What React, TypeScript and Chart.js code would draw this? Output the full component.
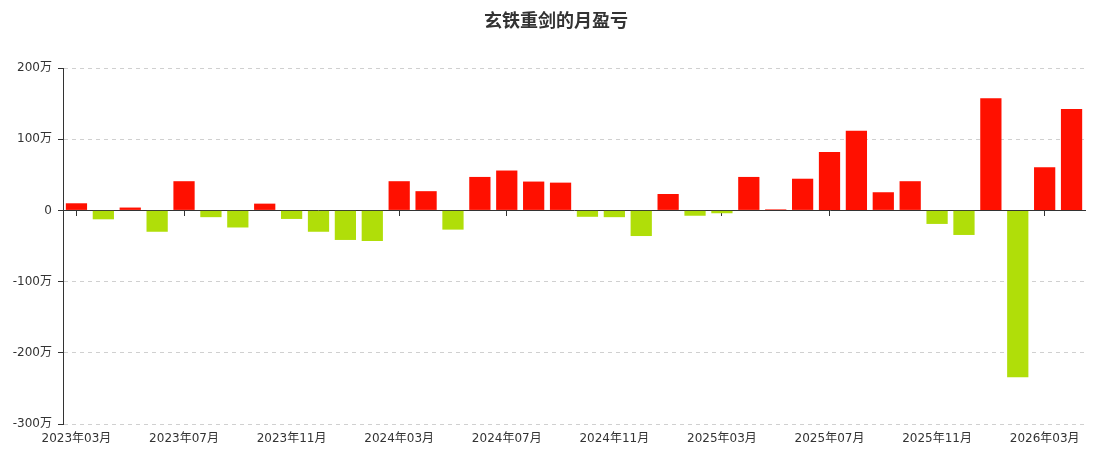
import React, { useEffect, useRef } from "react";
import { Chart, registerables } from "chart.js";

Chart.register(...registerables);

const TITLE = "玄铁重剑的月盈亏";

const months: string[] = [
  "2023年03月", "2023年04月", "2023年05月", "2023年06月", "2023年07月", "2023年08月",
  "2023年09月", "2023年10月", "2023年11月", "2023年12月", "2024年01月", "2024年02月",
  "2024年03月", "2024年04月", "2024年05月", "2024年06月", "2024年07月", "2024年08月",
  "2024年09月", "2024年10月", "2024年11月", "2024年12月", "2025年01月", "2025年02月",
  "2025年03月", "2025年04月", "2025年05月", "2025年06月", "2025年07月", "2025年08月",
  "2025年09月", "2025年10月", "2025年11月", "2025年12月", "2026年01月", "2026年02月",
  "2026年03月", "2026年04月",
];

// monthly profit / loss, unit: 万
const profit: number[] = [
  10, -12.5, 4, -30, 41, -9.5,
  -24, 9.5, -12, -30, -41.5, -43,
  41, 27, -27, 47, 56, 40.5,
  39, -9, -9.5, -36, 23, -7.5,
  -4, 47, 1.5, 44.5, 82, 112,
  25.5, 41, -19, -34.5, 157.5, -234.5,
  60.5, 142.5,
];

const yTicks: number[] = [-300, -200, -100, 0, 100, 200];

const UP_COLOR = "#FF1000";
const DOWN_COLOR = "#B0DE09";
const FONT = "'DejaVu Sans', 'Noto Sans CJK SC', sans-serif";

const titlePlugin = {
  id: "customTitle",
  afterDraw(chart: any) {
    const ctx = chart.ctx;
    ctx.save();
    ctx.font = "bold 18px 'Noto Sans CJK SC', sans-serif";
    ctx.fillStyle = "#333";
    ctx.textAlign = "center";
    ctx.textBaseline = "middle";
    ctx.fillText(TITLE, 556, 20);
    ctx.restore();
  },
};

export default function App() {
  const ref = useRef<HTMLCanvasElement | null>(null);

  useEffect(() => {
    if (!ref.current) return;
    const chart = new Chart(ref.current, {
      type: "bar",
      data: {
        labels: months,
        datasets: [
          {
            label: "月盈亏",
            data: profit,
            backgroundColor: (c: any) => ((c.raw ?? 0) >= 0 ? UP_COLOR : DOWN_COLOR),
            borderWidth: 0,
            categoryPercentage: 1,
            barPercentage: 0.79,
          },
        ],
      },
      options: {
        animation: false,
        responsive: true,
        maintainAspectRatio: false,
        layout: { padding: { top: 68, right: 16, left: 0, bottom: 0 } },
        plugins: {
          legend: { display: false },
          title: { display: false },
          tooltip: { enabled: false },
        },
        scales: {
          x: {
            type: "category",
            offset: true,
            grid: { display: false, drawTicks: false },
            border: { display: false },
            ticks: {
              autoSkip: false,
              maxRotation: 0,
              padding: 8,
              color: "#333",
              font: { size: 12, family: FONT },
              callback: (_v: any, i: number) => (i % 4 === 0 ? months[i] : ""),
            },
            afterFit: (s: any) => {
              s.height = 35;
            },
          },
          x2: {
            type: "category",
            labels: months,
            offset: true,
            position: { y: 0 } as any,
            grid: {
              offset: false,
              drawOnChartArea: false,
              drawTicks: true,
              tickLength: 5,
              tickColor: (c: any) => (c.index % 4 === 0 ? "#333" : "rgba(0,0,0,0)"),
            },
            border: { display: true, color: "#333", width: 1 },
            ticks: { display: false, autoSkip: false },
          },
          y: {
            min: -300,
            max: 200,
            afterBuildTicks: (s: any) => {
              s.ticks = yTicks.map((v) => ({ value: v }));
            },
            grid: {
              color: (c: any) => (c.tick && c.tick.value === 0 ? "rgba(0,0,0,0)" : "#d0d0d0"),
              tickColor: "#333",
              tickLength: 5,
            },
            border: { display: true, color: "#333", width: 1, dash: [4, 4] },
            ticks: {
              padding: 6,
              color: "#333",
              font: { size: 12, family: FONT },
              callback: (v: any) => (Number(v) === 0 ? "0" : `${v}万`),
            },
            afterFit: (s: any) => {
              s.width = 63;
            },
          },
        },
      },
      plugins: [titlePlugin],
    });
    return () => chart.destroy();
  }, []);

  return (
    <div style={{ position: "absolute", left: 0, top: 0, width: 1101, height: 459, background: "#fff" }}>
      <canvas ref={ref} style={{ display: "block" }} />
    </div>
  );
}
